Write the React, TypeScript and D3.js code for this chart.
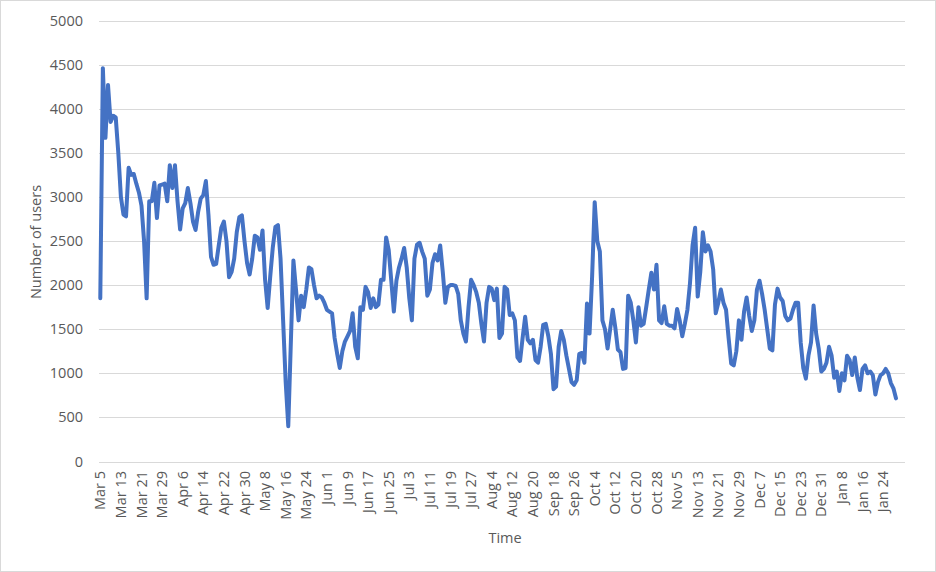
import React from "react";
import * as d3 from "d3";

// Daily number of users (category axis, one point per category)
const users: number[] = [
  1850, 4460, 3670, 4270, 3850, 3920, 3900, 3500, 3000, 2800,
  2780, 3330, 3250, 3260, 3150, 3050, 2900, 2500, 1850, 2950,
  2950, 3160, 2760, 3130, 3140, 3150, 2950, 3360, 3100, 3360,
  2950, 2630, 2870, 2930, 3100, 2930, 2720, 2625, 2830, 2980,
  3020, 3180, 2800, 2320, 2230, 2240, 2450, 2650, 2720, 2500,
  2090, 2150, 2300, 2600, 2770, 2790, 2500, 2250, 2120, 2300,
  2560, 2540, 2400, 2620, 2060, 1740, 2100, 2430, 2660, 2680,
  2300, 1600, 900, 400, 1350, 2280, 1950, 1600, 1880, 1750,
  1950, 2200, 2180, 2000, 1850, 1880, 1860, 1800, 1720, 1700,
  1680, 1400, 1220, 1060, 1250, 1360, 1420, 1480, 1680, 1300,
  1170, 1750, 1720, 1980, 1920, 1740, 1850, 1750, 1780, 2060,
  2060, 2540, 2400, 2050, 1700, 2050, 2200, 2300, 2420, 2200,
  1850, 1600, 2300, 2460, 2480, 2380, 2300, 1880, 1950, 2250,
  2350, 2280, 2450, 2150, 1800, 1980, 2000, 2000, 1990, 1900,
  1600, 1450, 1360, 1750, 2060, 2000, 1920, 1800, 1560, 1360,
  1800, 1980, 1960, 1830, 1960, 1400, 1450, 1980, 1950, 1660,
  1680, 1600, 1180, 1140, 1400, 1640, 1380, 1340, 1380, 1150,
  1120, 1300, 1550, 1560, 1420, 1220, 820, 850, 1300, 1480,
  1380, 1200, 1050, 900, 870, 920, 1220, 1230, 1120, 1790,
  1450, 2100, 2940, 2500, 2380, 1600, 1500, 1280, 1500, 1720,
  1520, 1270, 1240, 1050, 1060, 1880, 1800, 1600, 1350, 1750,
  1540, 1560, 1750, 1950, 2140, 1950, 2230, 1600, 1570, 1760,
  1560, 1540, 1540, 1510, 1730, 1600, 1420, 1560, 1720, 2020,
  2450, 2650, 1870, 2150, 2600, 2380, 2450, 2380, 2180, 1680,
  1800, 1950, 1800, 1720, 1400, 1110, 1090, 1250, 1600, 1380,
  1700, 1860, 1650, 1480, 1600, 1950, 2050, 1900, 1720, 1500,
  1280, 1260, 1780, 1960, 1860, 1820, 1650, 1600, 1620, 1720,
  1800, 1800, 1350, 1060, 940, 1200, 1350, 1770, 1450, 1280,
  1020, 1050, 1120, 1300, 1200, 950, 1020, 800, 1000, 920,
  1200, 1150, 980, 1180, 950, 810, 1050, 1090, 1000, 1020,
  980, 760, 900, 980, 1000, 1050, 1000, 890, 830, 716,
];

// Category tick labels, one every 8 categories
const xTickLabels: string[] = [
  "Mar 5", "Mar 13", "Mar 21", "Mar 29", "Apr 6", "Apr 14", "Apr 22", "Apr 30",
  "May 8", "May 16", "May 24", "Jun 1", "Jun 9", "Jun 17", "Jun 25", "Jul 3",
  "Jul 11", "Jul 19", "Jul 27", "Aug 4", "Aug 12", "Aug 20", "Sep 18", "Sep 26",
  "Oct 4", "Oct 12", "Oct 20", "Oct 28", "Nov 5", "Nov 13", "Nov 21", "Nov 29",
  "Dec 7", "Dec 15", "Dec 23", "Dec 31", "Jan 8", "Jan 16", "Jan 24",
];
const labelStep = 8;
const categoryCount = 313;

const yTicks: number[] = [0, 500, 1000, 1500, 2000, 2500, 3000, 3500, 4000, 4500, 5000];

const W = 936;
const H = 572;
const plot = { left: 99, right: 905, top: 20.5, bottom: 461.5 };
const FONT = "'Open Sans', 'Liberation Sans', sans-serif";
const TEXT = "#595959";

export default function App() {
  const x = d3
    .scaleLinear()
    .domain([-0.5, categoryCount - 0.5])
    .range([plot.left, plot.right]);
  const y = d3.scaleLinear().domain([0, 5000]).range([plot.bottom, plot.top]);

  const line = d3
    .line<number>()
    .x((_, i) => x(i))
    .y((d) => y(d));

  return (
    <svg
      width={W}
      height={H}
      viewBox={`0 0 ${W} ${H}`}
      style={{ position: "absolute", left: 0, top: 0, background: "#fff" }}
    >
      <rect x={0.5} y={0.5} width={W - 1} height={H - 1} fill="#fff" stroke="#d9d9d9" />
      {yTicks.map((t) => (
        <g key={t}>
          <line
            x1={plot.left}
            x2={plot.right}
            y1={Math.round(y(t)) + 0.5}
            y2={Math.round(y(t)) + 0.5}
            stroke="#d9d9d9"
            strokeWidth={1}
          />
          <text
            x={83}
            y={y(t)}
            dy="0.35em"
            textAnchor="end"
            fontFamily={FONT}
            fontSize={14.5}
            fill={TEXT}
          >
            {t}
          </text>
        </g>
      ))}
      {xTickLabels.map((lab, k) => {
        const cx = x(k * labelStep);
        return (
          <text
            key={lab}
            transform={`translate(${cx},${471}) rotate(-90)`}
            dy="0.35em"
            textAnchor="end"
            fontFamily={FONT}
            fontSize={14.5}
            fill={TEXT}
          >
            {lab}
          </text>
        );
      })}
      <path
        d={line(users) ?? ""}
        fill="none"
        stroke="#4472C4"
        strokeWidth={4}
        strokeLinejoin="round"
        strokeLinecap="round"
      />
      <text
        transform={`translate(36,242) rotate(-90)`}
        dy="0.35em"
        textAnchor="middle"
        fontFamily={FONT}
        fontSize={14.5}
        fill={TEXT}
      >
        Number of users
      </text>
      <text
        x={505}
        y={538}
        dy="0.35em"
        textAnchor="middle"
        fontFamily={FONT}
        fontSize={14.5}
        fill={TEXT}
      >
        Time
      </text>
    </svg>
  );
}
